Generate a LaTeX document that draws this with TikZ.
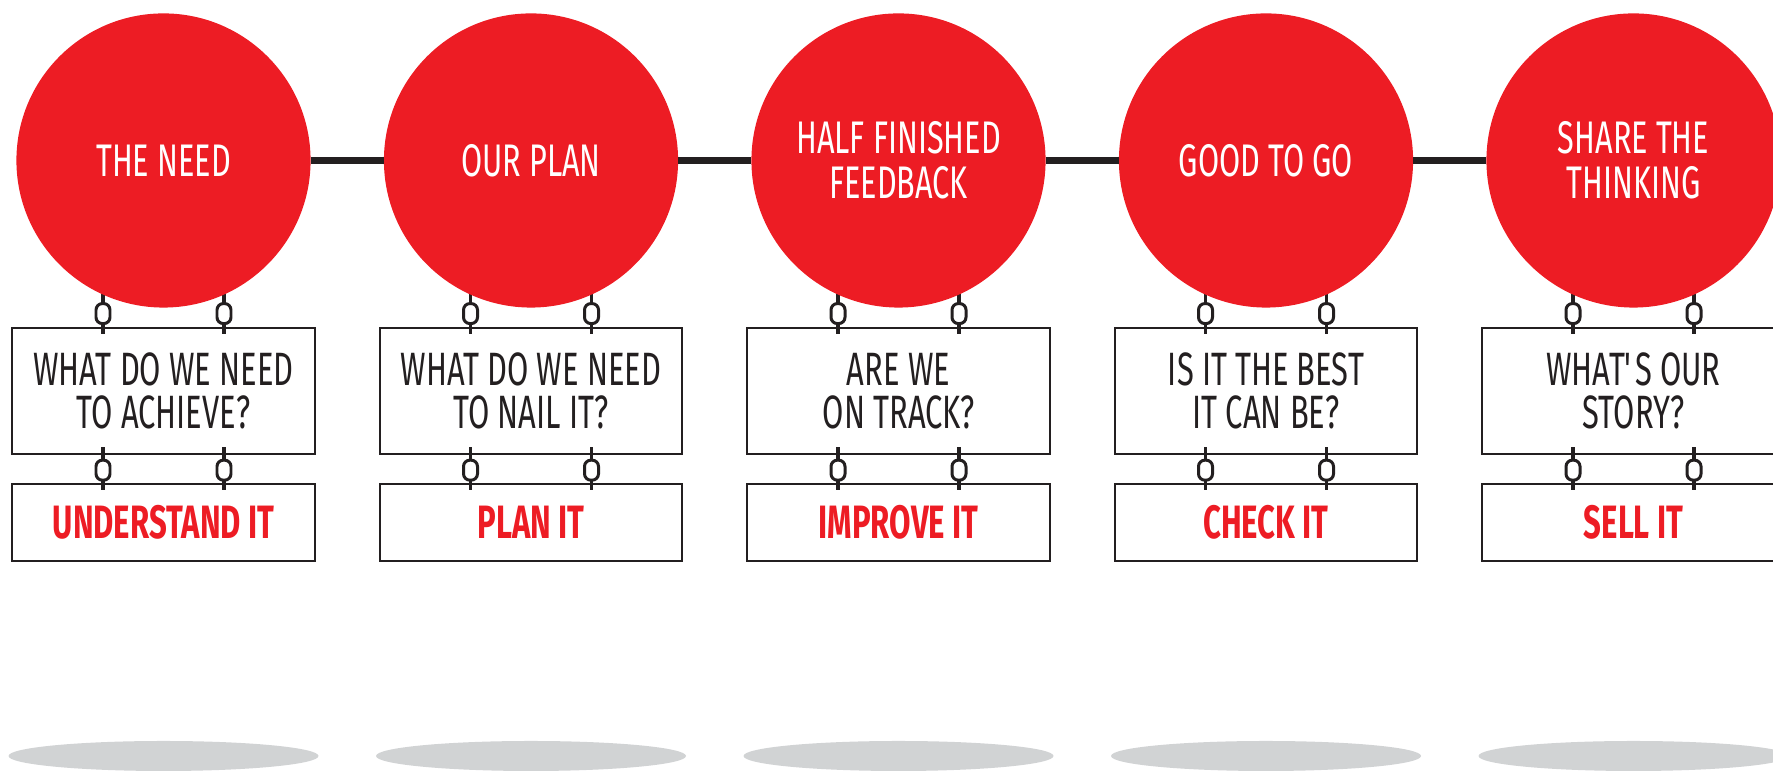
\documentclass[tikz,border=0pt]{standalone}
\usepackage{fontspec}
\usetikzlibrary{calc,positioning,backgrounds}

\newfontfamily\signfont[FakeStretch=0.66]{Fira Sans}
\newfontfamily\stagefont[FakeStretch=0.67]{Fira Sans}
\newfontfamily\signboldfont[FakeStretch=0.665]{Fira Sans}
\definecolor{signred}{RGB}{237,28,36}
\definecolor{ink}{RGB}{35,31,32}
\definecolor{shadowgray}{RGB}{209,211,212}

\begin{document}
\begin{tikzpicture}[x=0.01cm, y=0.01cm,
  stage/.style={circle, fill=signred, minimum size=2.94cm, inner sep=0pt, outer sep=0pt,
    align=center, text=white, font=\stagefont\fontsize{13}{12.8}\selectfont},
  question/.style={draw=ink, line width=0.57pt, minimum width=3.02cm, minimum height=1.26cm,
    inner sep=0pt, outer sep=0pt, align=center, text=ink,
    font=\signfont\fontsize{13.3}{12.2}\selectfont},
  action/.style={question, minimum height=0.77cm, text=signred,
    font=\signboldfont\bfseries\fontsize{13.3}{13.3}\selectfont},
  bar/.style={draw=ink, line width=1.85pt},
  chain/.style={draw=ink, line width=0.95pt},
  chainlink/.style={draw=ink, fill=white, line width=0.85pt, rounded corners=1.8pt},
  groundshadow/.style={fill=shadowgray}]
  \useasboundingbox (0,0) rectangle (1773,771);

  % one column per stage: circle, question sign, action sign, shadow on the floor
  \foreach \stagename/\asked/\todo [count=\i] in {
      {THE NEED}/{WHAT DO WE NEED\\TO ACHIEVE?}/{UNDERSTAND IT},
      {OUR PLAN}/{WHAT DO WE NEED\\TO NAIL IT?}/{PLAN IT},
      {HALF FINISHED\\FEEDBACK}/{ARE WE\\ON TRACK?}/{IMPROVE IT},
      {GOOD TO GO}/{IS IT THE BEST\\IT CAN BE?}/{CHECK IT},
      {SHARE THE\\THINKING}/{WHAT\textquotesingle S OUR\\STORY?}/{SELL IT}} {
    \node[stage] (stage\i) at ({163.5+367.5*(\i-1)},610.5) {\stagename};
    \node[question, below=0.205cm of stage\i] (ask\i) {\asked};
    \node[action, below=0.30cm of ask\i] (act\i) {\todo};
    \fill[groundshadow] ({163.5+367.5*(\i-1)},15) ellipse (155 and 15);
  }

  % the bar the circles sit on
  \foreach \i [evaluate=\i as \j using int(\i+1)] in {1,...,4}
    \draw[bar] (stage\i) -- (stage\j);

  % chains holding the signs, tucked under the circles
  \begin{scope}[on background layer]
    \foreach \i in {1,...,5}
      \foreach \dx in {-60.5,60.5} {
        \draw[chain] ($(ask\i.north)+(\dx,40)$) -- ($(ask\i.north)+(\dx,-6)$);
        \draw[chainlink] ($(ask\i.north)+(\dx,14.5)$) +(-7,-10) rectangle +(7,10);
        \draw[chain] ($(act\i.north)+(\dx,37)$) -- ($(act\i.north)+(\dx,-6)$);
        \draw[chainlink] ($(act\i.north)+(\dx,14)$) +(-7,-10) rectangle +(7,10);
      }
  \end{scope}
\end{tikzpicture}
\end{document}
